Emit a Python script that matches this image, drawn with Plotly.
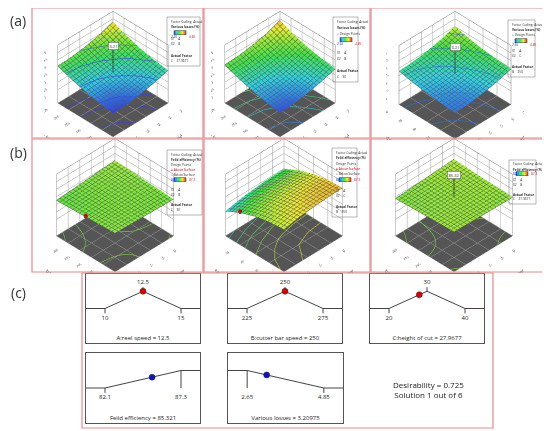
import numpy as np
import plotly.graph_objects as go
from plotly.colors import sample_colorscale

# factor levels used for the response grids
rs_speed = [10, 11.25, 12.5, 13.75, 15]
cs_speed = [225, 237.5, 250, 262.5, 275]
hc_height = [20, 25, 30, 35, 40]

rs_ticks = [10, 11, 12, 13, 14, 15]
cs_ticks = [225, 235, 245, 255, 265, 275]
hc_ticks = [20, 25, 30, 35, 40]
loss_ticks = [2, 2.5, 3, 3.5, 4, 4.5, 5]
eff_ticks = [82, 83, 84, 85, 86, 87, 88]

# responses (rows = second factor, cols = reel speed)
loss_cs_rs = [[2.65, 2.70, 2.84, 3.04, 3.30],
              [2.80, 2.84, 2.97, 3.16, 3.42],
              [3.00, 3.04, 3.16, 3.34, 3.62],
              [3.26, 3.30, 3.42, 3.60, 3.92],
              [3.58, 3.63, 3.76, 3.96, 4.30]]
loss_cs_rs_c30 = [[2.70, 2.75, 2.90, 3.12, 3.40],
                  [2.86, 2.90, 3.04, 3.25, 3.54],
                  [3.06, 3.10, 3.23, 3.43, 3.72],
                  [3.33, 3.37, 3.50, 3.70, 4.00],
                  [3.66, 3.71, 3.84, 4.04, 4.40]]
loss_hc_rs = [[2.80, 2.85, 2.98, 3.18, 3.45],
              [2.88, 2.93, 3.05, 3.25, 3.52],
              [2.98, 3.03, 3.15, 3.35, 3.62],
              [3.12, 3.17, 3.30, 3.50, 3.78],
              [3.32, 3.37, 3.50, 3.72, 4.02]]
eff_cs_rs = [[84.92, 84.86, 84.80, 84.74, 84.68],
             [84.82, 84.81, 84.80, 84.79, 84.78],
             [84.72, 84.76, 84.80, 84.84, 84.88],
             [84.62, 84.71, 84.80, 84.89, 84.98],
             [84.52, 84.66, 84.80, 84.94, 85.08]]
eff_hc_rs = [[85.40, 85.80, 86.00, 86.15, 86.20],
             [85.20, 85.60, 85.85, 86.00, 86.05],
             [84.80, 85.20, 85.45, 85.60, 85.65],
             [84.10, 84.50, 84.75, 84.90, 84.95],
             [83.10, 83.50, 83.75, 83.90, 83.95]]
eff_cs_rs_opt = [[85.10, 85.05, 85.00, 84.96, 84.92],
                 [85.02, 85.01, 85.00, 85.00, 85.00],
                 [84.94, 84.97, 85.00, 85.04, 85.08],
                 [84.86, 84.93, 85.00, 85.08, 85.16],
                 [84.78, 84.89, 85.00, 85.12, 85.24]]

loss_range = [2.65, 4.85]
eff_range = [82.1, 87.3]

# optimisation (desirability) panels
goal_names = ["A:reel speed", "B:cutter bar speed", "C:height of cut",
              "Feild efficiency", "Various losses"]
goal_low = [10, 225, 20, 82.1, 2.65]
goal_high = [15, 275, 40, 87.3, 4.85]
goal_target = [12.5, 250, 30, None, None]
goal_kind = ["target", "target", "target", "max", "min"]
solution = [12.5, 250, 27.9677, 85.321, 3.20975]
desirability = 0.725

# the page body has an 8px margin, so the figure sits at (8, 8)
OFF = 8
FW, FH = 542, 423


def X(x):
    return min(max((x - OFF) / FW, 0), 1)


def Y(y):
    return min(max(1 - (y - OFF) / FH, 0), 1)


def px(x0, x1):
    return [X(x0), X(x1)]


def py(y0, y1):
    return [Y(y1), Y(y0)]


de_scale = [[0, "#2a3cf0"], [0.2, "#28d4f0"], [0.42, "#3ce83c"],
            [0.7, "#eef02a"], [1, "#f02a2a"]]


def sub_scale(zmin, zmax, rng):
    a = (zmin - rng[0]) / (rng[1] - rng[0])
    b = (zmax - rng[0]) / (rng[1] - rng[0])
    fr = np.linspace(0, 1, 9)
    cols = sample_colorscale(de_scale, [float(v) for v in np.clip(a + (b - a) * fr, 0, 1)])
    return [[float(f), c] for f, c in zip(fr, cols)]


panels = [
    dict(z=loss_cs_rs, y=cs_speed, yt=cs_ticks, ytitle="CS: cutter bar speed (rpm)",
         ztitle="Various losses (%)", zt=loss_ticks, zr=[1.1, 5], cr=loss_range,
         step=0.3, dom=(px(44, 182), py(0, 138)), flag=("3.21", 12.5, 250)),
    dict(z=loss_cs_rs_c30, y=cs_speed, yt=cs_ticks, ytitle="CS: cutter bar speed (rpm)",
         ztitle="Various losses (%)", zt=loss_ticks, zr=[1.1, 5], cr=loss_range,
         step=0.3, dom=(px(211, 349), py(0, 138)), flag=None),
    dict(z=loss_hc_rs, y=hc_height, yt=hc_ticks, ytitle="HC: height of cut (mm)",
         ztitle="Various losses (%)", zt=loss_ticks, zr=[1.1, 5], cr=loss_range,
         step=0.3, dom=(px(386, 524), py(2, 140)), flag=("3.21", 12.5, 30)),
    dict(z=eff_cs_rs, y=cs_speed, yt=cs_ticks, ytitle="CS: cutter bar speed (rpm)",
         ztitle="Feild efficiency (%)", zt=eff_ticks, zr=[79.8, 88], cr=eff_range,
         step=0.12, dom=(px(46, 184), py(135, 273)), flag=None, pt=(10, 250)),
    dict(z=eff_hc_rs, y=hc_height, yt=hc_ticks, ytitle="HS: height of cut (mm)",
         ztitle="Feild efficiency (%)", zt=eff_ticks, zr=[79.8, 88], cr=eff_range,
         step=0.5, dom=(px(215, 353), py(135, 273)), flag=None, pt=(10, 35)),
    dict(z=eff_cs_rs_opt, y=cs_speed, yt=cs_ticks, ytitle="CS: cutter bar speed (rpm)",
         ztitle="Feild efficiency (%)", zt=eff_ticks, zr=[79.8, 88], cr=eff_range,
         step=0.12, dom=(px(385, 523), py(135, 273)), flag=("85.32", 12.5, 250)),
]

fig = go.Figure()
font = "Open Sans"


def ax(title, vals, rng):
    return dict(title=dict(text=title, font=dict(size=5, family=font, color="#333")),
                tickvals=vals, tickfont=dict(size=6, family=font, color="#333"),
                showbackground=False, gridcolor="#9a9a9a", gridwidth=1,
                showline=True, linecolor="#777", linewidth=1, mirror=True,
                showspikes=False, zeroline=False, range=rng)


for i, p in enumerate(panels):
    sc = "scene" if i == 0 else f"scene{i + 1}"
    z = np.array(p["z"])
    fig.add_trace(go.Surface(
        x=rs_speed, y=p["y"], z=z, scene=sc,
        colorscale=sub_scale(z.min(), z.max(), p["cr"]), showscale=False,
        lighting=dict(ambient=0.85, diffuse=0.3, specular=0.05, roughness=1),
        contours=dict(
            x=dict(show=True, start=10, end=15, size=5 / 18, color="#5c5c5c", width=1),
            y=dict(show=True, start=p["y"][0], end=p["y"][-1],
                   size=(p["y"][-1] - p["y"][0]) / 18, color="#5c5c5c", width=1),
            z=dict(show=True, start=z.min() + p["step"] / 2, end=z.max(), size=p["step"],
                   usecolormap=True, width=2, project=dict(z=True)),
        ),
        hoverinfo="skip",
    ))
    if p["flag"]:
        txt, fx, fy = p["flag"]
        zc = float(np.interp(fx, rs_speed, z[len(p["y"]) // 2]))
        fig.add_trace(go.Scatter3d(x=[fx, fx], y=[fy, fy],
                                   z=[zc, p["zr"][1] - 0.04 * (p["zr"][1] - p["zr"][0])],
                                   mode="lines", line=dict(color="#333", width=1.5), scene=sc,
                                   showlegend=False, hoverinfo="skip"))
    if p.get("pt"):
        fx, fy = p["pt"]
        row = int(np.argmin(np.abs(np.array(p["y"]) - fy)))
        fig.add_trace(go.Scatter3d(x=[fx], y=[fy], z=[z[row][0] + 0.1], mode="markers",
                                   marker=dict(color="#c00000", size=2.5), scene=sc,
                                   showlegend=False, hoverinfo="skip"))

    zax = ax(p["ztitle"], p["zt"], p["zr"])
    zax.update(showbackground=True, backgroundcolor="#555555")
    scene = dict(
        domain=dict(x=p["dom"][0], y=p["dom"][1]),
        xaxis=ax("RS: reel speed (rpm)", rs_ticks, [10, 15]),
        yaxis=ax(p["ytitle"], p["yt"], [p["y"][0], p["y"][-1]]),
        zaxis=zax,
        aspectmode="manual", aspectratio=dict(x=1.2, y=1.2, z=1.13),
        camera=dict(eye=dict(x=-1.17, y=-1.17, z=1.3), center=dict(x=0, y=0, z=0.02),
                    projection=dict(type="orthographic")),
        bgcolor="rgba(0,0,0,0)",
    )
    if p["flag"]:
        txt, fx, fy = p["flag"]
        scene["annotations"] = [dict(x=fx, y=fy, z=p["zr"][1] - 0.02 * (p["zr"][1] - p["zr"][0]),
                                     text=txt, showarrow=False, font=dict(size=4, color="#222"),
                                     bgcolor="white", bordercolor="#444", borderwidth=0.5)]
    fig.layout[sc] = scene

# legend boxes next to each surface ("BAR" marks the colour bar row)
above = "<span style='color:#c00000'>● Above Surface</span>"
legend_boxes = [
    (167, 17, 200, 66, ["Factor Coding: Actual", "<b>Various losses (%)</b>", "BAR", "X1 = A", "X2 = B", "",
                        "<b>Actual Factor</b>", "C = 27.9677"], loss_range),
    (333, 17, 358, 82, ["Factor Coding: Actual", "<b>Various losses (%)</b>", "○ Design Points", "BAR", "",
                        "X1 = A", "X2 = B", "", "<b>Actual Factor</b>", "C = 30"], loss_range),
    (508, 20, 535, 77, ["Factor Coding: Actual", "<b>Various losses (%)</b>", "○ Design Points", "BAR", "",
                        "X1 = A", "X2 = C", "", "<b>Actual Factor</b>", "B = 250"], loss_range),
    (167, 150, 202, 215, ["Factor Coding: Actual", "<b>Feild efficiency (%)</b>", "Design Points",
                          above, "○ Below Surface", "BAR", "", "X1 = A", "X2 = B", "",
                          "<b>Actual Factor</b>", "C = 30"], eff_range),
    (332, 148, 357, 217, ["Factor Coding: Actual", "<b>Feild efficiency (%)</b>", "Design Points",
                          above, "○ Below Surface", "BAR", "", "X1 = A", "X2 = C", "",
                          "<b>Actual Factor</b>", "B = 250"], eff_range),
    (509, 160, 536, 204, ["Factor Coding: Actual", "<b>Feild efficiency (%)</b>", "BAR", "X1 = A", "X2 = B",
                          "", "<b>Actual Factor</b>", "C = 27.9677"], eff_range),
]

shapes = []
annotations = []
for (x0, y0, x1, y1, lines, rng) in legend_boxes:
    shapes.append(dict(type="rect", xref="paper", yref="paper", x0=X(x0), x1=X(x1),
                       y0=Y(y1), y1=Y(y0), line=dict(color="#888", width=0.6),
                       fillcolor="white", layer="below"))
    step = (y1 - y0 - 4) / len(lines)
    for k, t in enumerate(lines):
        yy = y0 + 2 + step * (k + 0.5)
        if t == "BAR":
            annotations.append(dict(x=X(x0 + 1.5), y=Y(yy), xref="paper", yref="paper",
                                    text=f"{rng[0]:g}", showarrow=False, xanchor="left",
                                    font=dict(size=3.2, color="#2233cc", family=font)))
            annotations.append(dict(x=X(x0 + 20), y=Y(yy), xref="paper", yref="paper",
                                    text=f"{rng[1]:g}", showarrow=False, xanchor="left",
                                    font=dict(size=3.2, color="#cc2222", family=font)))
            fig.add_trace(go.Scatter(
                x=[None], y=[None], mode="markers", showlegend=False,
                marker=dict(colorscale=de_scale, cmin=0, cmax=1, color=[0], showscale=True,
                            colorbar=dict(orientation="h", x=X(x0 + 7), y=Y(yy),
                                          xanchor="left", yanchor="middle",
                                          lenmode="pixels", len=12, thickness=3.5,
                                          showticklabels=False, ticks="",
                                          outlinewidth=0.5, outlinecolor="#333",
                                          xpad=0, ypad=0))))
            continue
        if t:
            annotations.append(dict(x=X(x0 + 1.5), y=Y(yy), xref="paper", yref="paper", text=t,
                                    showarrow=False, xanchor="left", yanchor="middle",
                                    font=dict(size=3.2, color="#333", family=font)))

# red frames
frames = [(32, 5, 203, 138), (204, 5, 370, 138), (371, 5, 546, 138),
          (32, 139, 203, 272), (204, 139, 370, 272), (371, 139, 546, 272),
          (82, 273, 493, 428)]
for (x0, y0, x1, y1) in frames:
    shapes.append(dict(type="rect", xref="paper", yref="paper", x0=X(x0), x1=X(x1),
                       y0=Y(y1), y1=Y(y0), line=dict(color="#e88a8e", width=1.2)))

for lab, yy in [("(a)", 20), ("(b)", 153), ("(c)", 292)]:
    annotations.append(dict(x=X(18), y=Y(yy), xref="paper", yref="paper", text=lab,
                            xanchor="center", yanchor="middle", showarrow=False,
                            font=dict(size=14, color="#333", family=font)))

# desirability ramps
ramp_dom = [(86, 200, 274, 343), (228, 342, 274, 343), (370, 484, 274, 343),
            (86, 200, 353, 423), (228, 343, 353, 423)]
lo_lvl, hi_lvl = 0.5, 0.75
for i in range(5):
    n = "" if i == 0 else str(i + 1)
    lo, hi = goal_low[i], goal_high[i]
    pad = 0.25 * (hi - lo)
    if goal_kind[i] == "target":
        rx = [lo - pad, lo, goal_target[i], hi, hi + pad]
        ry = [lo_lvl, lo_lvl, hi_lvl, lo_lvl, lo_lvl]
    elif goal_kind[i] == "max":
        rx = [lo - pad, lo, hi, hi + pad]
        ry = [lo_lvl, lo_lvl, hi_lvl, hi_lvl]
    else:
        rx = [lo - pad, lo, hi, hi + pad]
        ry = [hi_lvl, hi_lvl, lo_lvl, lo_lvl]
    xa, ya = "x" + n, "y" + n
    line = dict(color="#444", width=1)
    fig.add_trace(go.Scatter(x=rx, y=ry, mode="lines", line=line,
                             xaxis=xa, yaxis=ya, showlegend=False, hoverinfo="skip"))
    # tick marks at the goal limits
    for v in (lo, hi):
        top = float(np.interp(v, rx, ry))
        bottom = lo_lvl - 0.07 if top == lo_lvl else lo_lvl
        fig.add_trace(go.Scatter(x=[v, v], y=[top, bottom], mode="lines", line=line,
                                 xaxis=xa, yaxis=ya, showlegend=False, hoverinfo="skip"))
    fig.add_trace(go.Scatter(x=[lo, hi], y=[0.36, 0.36], mode="text",
                             text=[f"{lo:g}", f"{hi:g}"],
                             textfont=dict(size=6, color="#222", family=font),
                             xaxis=xa, yaxis=ya, showlegend=False, hoverinfo="skip"))
    if goal_kind[i] == "target":
        t = goal_target[i]
        fig.add_trace(go.Scatter(x=[t, t], y=[hi_lvl, hi_lvl + 0.06], mode="lines", line=line,
                                 xaxis=xa, yaxis=ya, showlegend=False, hoverinfo="skip"))
        fig.add_trace(go.Scatter(x=[t], y=[0.88], mode="text", text=[f"{t:g}"],
                                 textfont=dict(size=6, color="#222", family=font),
                                 xaxis=xa, yaxis=ya, showlegend=False, hoverinfo="skip"))
    dot_col = "#e00000" if i < 3 else "#1010d0"
    fig.add_trace(go.Scatter(x=[solution[i]], y=[float(np.interp(solution[i], rx, ry))], mode="markers",
                             marker=dict(color=dot_col, size=6, line=dict(color="#222", width=0.5)),
                             xaxis=xa, yaxis=ya, showlegend=False, hoverinfo="skip"))
    fig.add_trace(go.Scatter(x=[(lo + hi) / 2], y=[0.07], mode="text",
                             text=[f"{goal_names[i]} = {solution[i]:g}"],
                             textfont=dict(size=6, color="#222", family=font),
                             xaxis=xa, yaxis=ya, showlegend=False, hoverinfo="skip"))
    x0, x1, y0, y1 = ramp_dom[i]
    fig.layout["xaxis" + n] = dict(domain=px(x0, x1), range=[lo - pad, hi + pad], showgrid=False,
                                   zeroline=False, showticklabels=False, showline=True, mirror=True,
                                   linecolor="#555", linewidth=1, anchor=ya, fixedrange=True)
    fig.layout["yaxis" + n] = dict(domain=py(y0, y1), range=[0, 1], showgrid=False, zeroline=False,
                                   showticklabels=False, showline=True, mirror=True,
                                   linecolor="#555", linewidth=1, anchor=xa, fixedrange=True)

annotations.append(dict(x=X(428), y=Y(389), xref="paper", yref="paper",
                        text=f"Desirability = {desirability}<br>Solution 1 out of 6", showarrow=False,
                        xanchor="center", yanchor="middle",
                        font=dict(size=8, color="#222", family=font)))

fig.update_layout(width=FW, height=FH, margin=dict(l=0, r=0, t=0, b=0),
                  paper_bgcolor="white", plot_bgcolor="white",
                  shapes=shapes, annotations=annotations, showlegend=False)

fig.write_html("out.html")
